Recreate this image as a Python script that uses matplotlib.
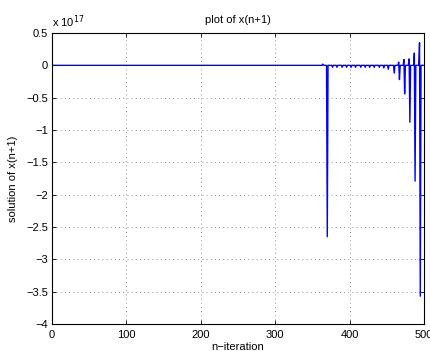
import numpy as np
import matplotlib
matplotlib.use("Agg")
import matplotlib.pyplot as plt

plt.rcParams['font.family'] = ['Liberation Sans', 'DejaVu Sans']

# data (values in units of 1e17)
n_max = 500
small_idx = [364, 377, 383, 390, 396, 402, 408, 415, 421, 427, 433, 440, 446, 452]
small_val = [0.02, -0.03, -0.03, -0.03, -0.03, -0.03, -0.03, -0.03, -0.03, -0.03, -0.03, -0.03, -0.04, -0.06]
main_idx = [370]
main_val = [-2.65]
down_idx = [460, 467, 474, 481, 488, 495]
down_val = [-0.12, -0.22, -0.44, -0.88, -1.79, -3.57]
up_idx = [466, 473, 480, 487, 494]
up_val = [0.05, 0.09, 0.10, 0.19, 0.35]

x = np.arange(0, n_max + 1)
y = np.zeros_like(x, dtype=float)
for idx, val in zip(small_idx + main_idx + down_idx + up_idx,
                    small_val + main_val + down_val + up_val):
    y[idx] = val

fig = plt.figure(figsize=(4.30, 3.51), dpi=100)
ax = fig.add_axes([52/430, 1 - 324/351, 372/430, 291/351])
ax.plot(x, y, color='#0000ff', linewidth=1.0)
ax.set_xlim(0, 500)
ax.set_ylim(-4, 0.5)
ax.set_xticks([0, 100, 200, 300, 400, 500])
ax.set_yticks(np.arange(-4, 0.51, 0.5))
ax.set_yticklabels(['\u22124', '\u22123.5', '\u22123', '\u22122.5', '\u22122', '\u22121.5', '\u22121', '\u22120.5', '0', '0.5'])
ax.tick_params(direction='in', length=3, labelsize=8, top=True, right=True, width=0.6)
ax.tick_params(axis='x', pad=4)
ax.tick_params(axis='y', pad=3)
ax.grid(True, linestyle=(0, (1, 4)), color='#707070', linewidth=0.6)
for s in ax.spines.values():
    s.set_linewidth(0.8)
ax.set_title('plot of x(n+1)', fontsize=8, pad=7)
ax.set_xlabel('n\u2212iteration', fontsize=8, labelpad=2)
ax.set_ylabel('solution of x(n+1)', fontsize=8, labelpad=6)
ax.text(0.0, 1.01, 'x 10$^{17}$', transform=ax.transAxes, fontsize=8, ha='left', va='bottom')
fig.savefig('out.png', dpi=100)
